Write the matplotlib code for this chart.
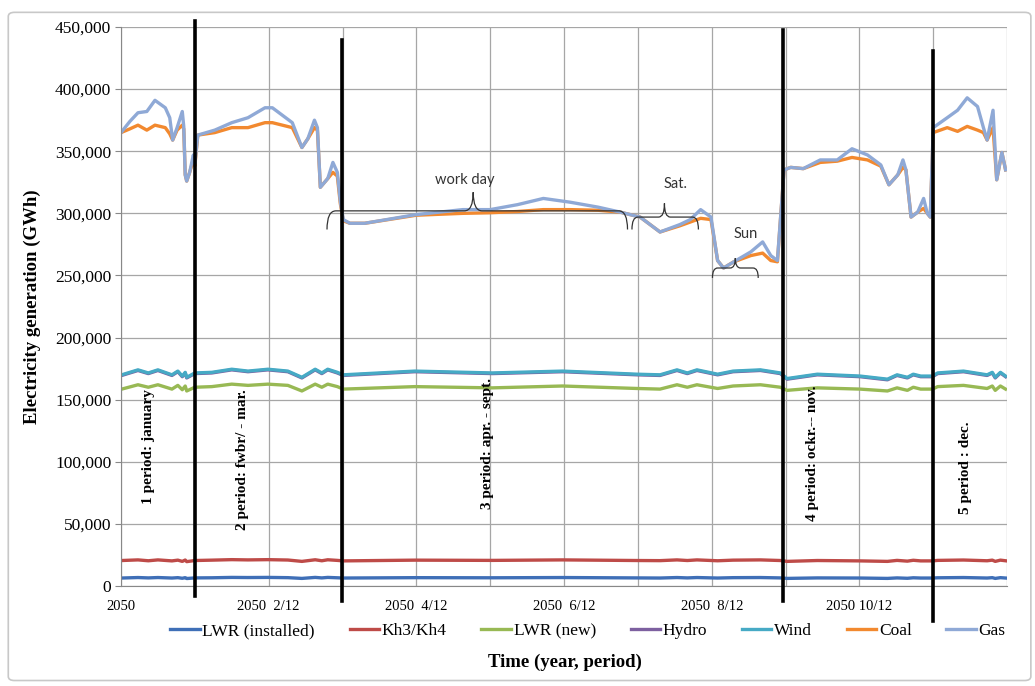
import matplotlib.pyplot as plt
from matplotlib.path import Path
from matplotlib.patches import PathPatch, FancyBboxPatch
from matplotlib.ticker import FuncFormatter

# x positions are in months from the start of 2050 (0..12)
x_top = [0.00, 0.12, 0.23, 0.35, 0.46, 0.60, 0.66, 0.70, 0.76, 0.83, 0.85, 0.87, 0.89, 0.93, 0.98, 1.00,
         1.04, 1.27, 1.50, 1.72, 1.95, 2.05, 2.32, 2.45, 2.53, 2.62, 2.66, 2.70, 2.80, 2.87, 2.93, 2.97,
         3.01, 3.10, 3.30, 4.00, 4.63, 5.00, 5.37, 5.72, 6.08, 6.46, 6.76, 7.03, 7.30, 7.57, 7.71, 7.85,
         7.99, 8.08, 8.16, 8.30, 8.53, 8.69, 8.80, 8.89, 8.98, 9.07, 9.24, 9.47, 9.70, 9.90, 10.11, 10.29,
         10.40, 10.52, 10.59, 10.63, 10.70, 10.79, 10.87, 10.92, 10.96, 11.00, 11.19, 11.33, 11.46, 11.60,
         11.68, 11.73, 11.81, 11.86, 11.93, 11.98]
gas = [365, 374, 381, 382, 391, 385, 377, 359, 369, 382, 370, 331, 326, 333, 347, 340,
       363, 367, 373, 377, 385, 385, 373, 353, 360, 375, 369, 321, 328, 341, 333, 310,
       295, 292, 292, 299, 303, 303, 307, 312, 309, 305, 301, 297, 285, 291, 295, 303,
       297, 262, 256, 261, 269, 277, 266, 262, 335, 337, 336, 343, 343, 352, 347, 339,
       323, 331, 343, 335, 297, 301, 312, 300, 297, 369, 377, 383, 393, 386,
       369, 359, 383, 327, 349, 335]
coal = [365, 368, 371, 367, 371, 369, 364, 359, 367, 371, 368, 331, 326, 333, 343, 338,
        363, 365, 369, 369, 373, 373, 369, 353, 360, 369, 367, 321, 328, 333, 330, 308,
        294, 292, 292, 298.5, 300, 300.5, 301.5, 303, 303, 302.5, 301, 297, 285, 290, 293, 296,
        295, 262, 256, 261, 266, 268, 262, 261, 335, 337, 336, 341, 342, 345, 343, 338,
        323, 331, 337, 335, 297, 301, 304, 300, 297, 365, 369, 366, 370, 367,
        365, 359, 369, 327, 349, 335]

x_base = [0.01, 0.23, 0.37, 0.50, 0.69, 0.77, 0.83, 0.87, 0.89, 1.00, 1.23, 1.50, 1.72, 1.99, 2.26,
          2.45, 2.63, 2.72, 2.80, 2.93, 3.01, 3.98, 5.03, 5.98, 6.99, 7.30, 7.53, 7.67, 7.80, 8.08,
          8.29, 8.66, 8.93, 9.02, 9.43, 10.01, 10.38, 10.51, 10.65, 10.73, 10.83, 10.99, 11.06, 11.41,
          11.73, 11.80, 11.84, 11.91, 11.98]
wind = [170, 174, 171.5, 174, 170, 173, 169, 172, 168, 171.5, 172, 174.5, 173, 174.5, 173,
        168, 174.5, 171.5, 174.5, 172, 170, 173, 171.5, 173, 170.5, 170, 174, 171.5, 174, 170.5,
        173, 174, 171.5, 167, 170.5, 169, 166.5, 170, 168, 170.5, 169, 169, 171.5, 173,
        170, 172, 168, 172, 169]
hydro = [169.5, 173.5, 171, 173.5, 169.5, 172.5, 168.5, 171.5, 167.5, 171, 171.5, 174, 172.5, 174, 172.5,
         167.5, 174, 171, 174, 171.5, 169.5, 172.5, 171, 172.5, 170, 169.5, 173.5, 171, 173.5, 170,
         172.5, 173.5, 171, 166.5, 170, 168.5, 166, 169.5, 167.5, 170, 168.5, 168.5, 171, 172.5,
         169.5, 171.5, 167.5, 171.5, 168.5]
lwr_new = [158.5, 162, 160, 162, 158.5, 161.5, 158, 161, 157, 160, 160.5, 162.5, 161.5, 162.5, 161.5,
           157, 162.5, 160, 162.5, 160.5, 158.5, 160.5, 159.5, 161, 159, 158.5, 162, 160, 162, 159,
           161, 162, 160, 157.5, 159.5, 158.5, 157, 159.5, 157.5, 160, 158.5, 158.5, 160.5, 161.5,
           159, 161, 157.5, 161, 158.5]
kh3_kh4 = [20.5, 21.0, 20.3, 21.0, 20.2, 20.8, 19.8, 20.9, 19.6, 20.5, 20.8, 21.2, 21.0, 21.2, 20.9,
           19.8, 21.1, 20.3, 21.1, 20.6, 20.2, 20.8, 20.6, 21.0, 20.5, 20.4, 21.0, 20.5, 21.0, 20.3,
           20.8, 21.0, 20.5, 19.8, 20.5, 20.2, 19.8, 20.6, 20.0, 20.7, 20.2, 20.2, 20.6, 20.9,
           20.3, 20.8, 19.8, 20.8, 20.3]
lwr_installed = [6.4, 6.8, 6.5, 6.8, 6.4, 6.7, 6.2, 6.7, 6.0, 6.5, 6.6, 6.9, 6.8, 6.9, 6.7,
                 6.1, 6.9, 6.5, 6.9, 6.6, 6.4, 6.7, 6.6, 6.8, 6.5, 6.4, 6.8, 6.5, 6.8, 6.4,
                 6.7, 6.8, 6.5, 6.1, 6.5, 6.4, 6.1, 6.5, 6.2, 6.6, 6.4, 6.4, 6.6, 6.8,
                 6.4, 6.7, 6.1, 6.7, 6.4]

series = [
    ("LWR (installed)", lwr_installed, "#3F6FB7"),
    ("Kh3/Kh4", kh3_kh4, "#BE4B48"),
    ("LWR (new)", lwr_new, "#98B954"),
    ("Hydro", hydro, "#7D60A0"),
    ("Wind", wind, "#46AAC5"),
]

tick_labels = ["2050", "", "2050  2/12", "", "2050  4/12", "", "2050  6/12", "",
               "2050  8/12", "", "2050 10/12", "", ""]

# period boundaries (month) with top / bottom of the drawn marker (GWh)
period_x = [1.00, 2.99, 8.97, 11.00]
period_top = [455000, 439500, 447500, 431000]
period_bottom = [-8000, -12000, -12000, -28000]

period_labels = ["1 period: january", "2 period: fwbr/ - mar.", "3 period: apr. - sept.",
                 "4 period: ockr.-- nov.", "5 period : dec."]
period_label_x = [0.37, 1.65, 4.97, 9.36, 11.44]
period_label_y = [112000, 102000, 115000, 107000, 95000]

plt.rcParams['font.family'] = ['Liberation Serif', 'DejaVu Serif']

fig = plt.figure(figsize=(10.35, 6.86), dpi=100)
ax = fig.add_axes([0.1169, 0.1458, 0.8561, 0.8148])

# chart border like the spreadsheet chart area
fig.patches.append(FancyBboxPatch((0.008, 0.008), 0.988, 0.974, boxstyle="round,pad=0,rounding_size=0.006",
                                  transform=fig.transFigure, facecolor="none", edgecolor="#C8C8C8", lw=1.2))

for name, vals, color in series:
    ax.plot(x_base, [v * 1000 for v in vals], color=color, lw=2.4, label=name, solid_joinstyle='round')
ax.plot(x_top, [v * 1000 for v in coal], color="#F2892F", lw=2.4, label="Coal", solid_joinstyle='round')
ax.plot(x_top, [v * 1000 for v in gas], color="#8FA9D6", lw=2.4, label="Gas", solid_joinstyle='round')

for x, top, bot in zip(period_x, period_top, period_bottom):
    ax.plot([x, x], [bot, top], color="black", lw=2.6, clip_on=False, zorder=5)

for txt, x, y in zip(period_labels, period_label_x, period_label_y):
    ax.text(x, y, txt, rotation=90, ha='center', va='center', fontsize=11, fontweight='bold', zorder=6)


def brace(x0, x1, xtip, y, drop, rise, dx):
    verts = [(x0, y - drop), (x0, y), (x0 + dx, y), (xtip - dx, y), (xtip, y), (xtip, y + rise),
             (xtip, y), (xtip + dx, y), (x1 - dx, y), (x1, y), (x1, y - drop)]
    codes = [Path.MOVETO, Path.CURVE3, Path.CURVE3, Path.LINETO, Path.CURVE3, Path.CURVE3,
             Path.CURVE3, Path.CURVE3, Path.LINETO, Path.CURVE3, Path.CURVE3]
    ax.add_patch(PathPatch(Path(verts, codes), facecolor='none', edgecolor='#333333', lw=0.9, zorder=4))


brace(2.79, 6.86, 4.77, 302000, 15000, 15000, 0.12)
brace(6.92, 7.82, 7.36, 297000, 10000, 11000, 0.08)
brace(8.01, 8.63, 8.32, 256000, 8000, 8000, 0.07)
ax.text(4.66, 327000, "work day", ha='center', va='center', fontsize=10.5, family=['Lato', 'DejaVu Sans'], color='#333333')
ax.text(7.51, 324000, "Sat.", ha='center', va='center', fontsize=10.5, family=['Lato', 'DejaVu Sans'], color='#333333')
ax.text(8.46, 283000, "Sun", ha='center', va='center', fontsize=10.5, family=['Lato', 'DejaVu Sans'], color='#333333')

ax.set_xlim(0, 12)
ax.set_ylim(0, 450000)
ax.set_xticks(range(13))
ax.set_xticklabels(tick_labels, fontsize=10.5)
ax.set_yticks(range(0, 450001, 50000))
ax.yaxis.set_major_formatter(FuncFormatter(lambda v, p: f"{int(v):,}"))
ax.tick_params(axis='y', labelsize=12.5, length=4, color='#888888', pad=3)
ax.tick_params(axis='x', length=0, pad=10)
ax.grid(True, color='#A6A6A6', lw=0.9)
ax.set_axisbelow(True)
for side in ['left', 'bottom']:
    ax.spines[side].set_color('#888888')
for side in ['top', 'right']:
    ax.spines[side].set_visible(False)

ax.set_ylabel("Electricity generation (GWh)", fontsize=13.5, fontweight='bold', labelpad=10)
fig.text(0.546, 0.035, "Time (year, period)", ha='center', va='center', fontsize=13.5, fontweight='bold')

fig.legend(loc='center', bbox_to_anchor=(0.568, 0.080), ncol=7, frameon=False, fontsize=12.5,
           handlelength=1.7, handletextpad=0.15, columnspacing=2.0)

fig.savefig("out.png", dpi=100)
